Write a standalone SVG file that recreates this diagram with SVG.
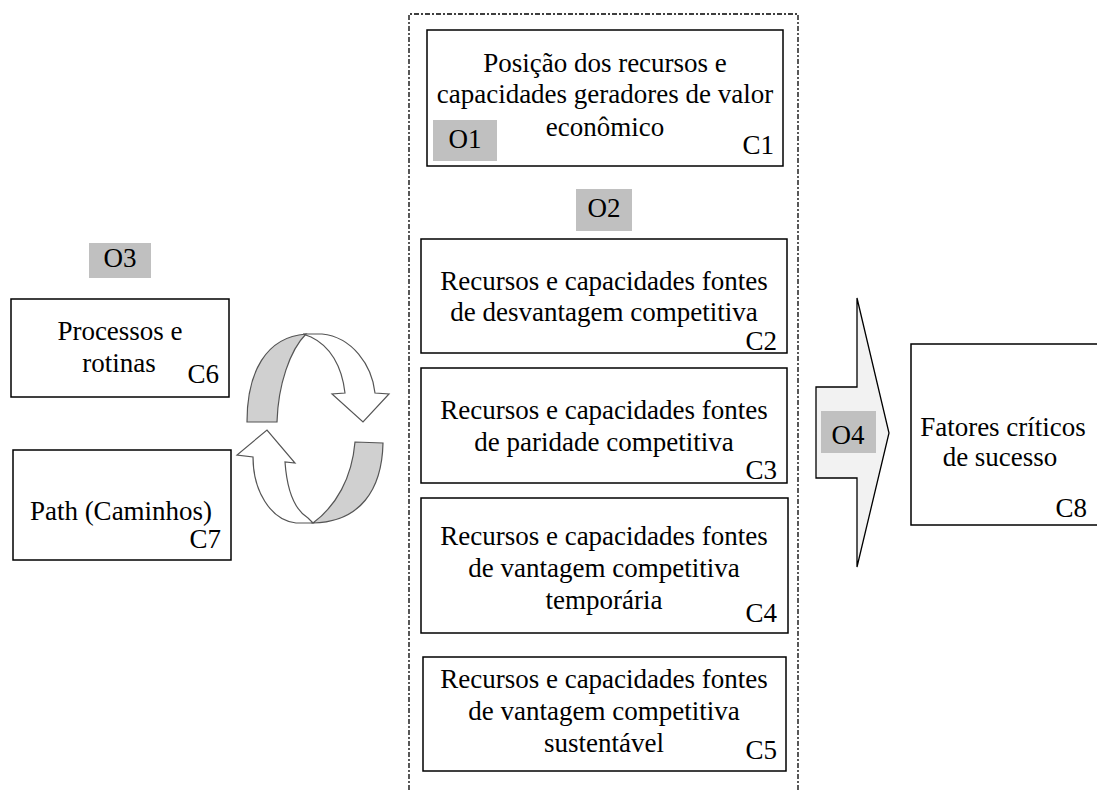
<svg xmlns="http://www.w3.org/2000/svg" width="1097" height="790" viewBox="0 0 1097 790" font-family="'Liberation Serif', 'Times New Roman', serif">
<style>
.box{fill:#fff;stroke:#000;stroke-width:1.5}
.tag{fill:#c0c0c0}
text{font-family:'Liberation Serif','Times New Roman',serif;font-size:27px;fill:#000}
.c{text-anchor:middle}
.r{text-anchor:end}
.rib{stroke:#555;stroke-width:1.2}
</style>
<rect width="1097" height="790" fill="#fff"/>
<g id="container">
<path d="M409,790 L409,14 L798,14 L798,790" fill="none" stroke="#000" stroke-width="1.3" stroke-dasharray="5,2,2,2"/>
</g>
<g id="C1">
<rect class="box" x="427" y="30" width="356" height="136"/>
<text class="c" x="605" y="72">Posição dos recursos e</text>
<text class="c" x="605" y="103">capacidades geradores de valor</text>
<text class="c" x="605" y="136">econômico</text>
<text class="r" x="774" y="154">C1</text>
</g>
<g id="O1">
<rect class="tag" x="433" y="120" width="64" height="41"/>
<text class="c" x="465" y="148">O1</text>
</g>
<g id="O2">
<rect class="tag" x="576" y="189" width="56" height="42"/>
<text class="c" x="604" y="217">O2</text>
</g>
<g id="C2">
<rect class="box" x="421" y="239" width="366" height="114"/>
<text class="c" x="604" y="290">Recursos e capacidades fontes</text>
<text class="c" x="604" y="321">de desvantagem competitiva</text>
<text class="r" x="777" y="350">C2</text>
</g>
<g id="C3">
<rect class="box" x="421" y="368" width="366" height="115"/>
<text class="c" x="604" y="419">Recursos e capacidades fontes</text>
<text class="c" x="604" y="451">de paridade competitiva</text>
<text class="r" x="777" y="479">C3</text>
</g>
<g id="C4">
<rect class="box" x="421" y="498" width="367" height="135"/>
<text class="c" x="604" y="545">Recursos e capacidades fontes</text>
<text class="c" x="604" y="577">de vantagem competitiva</text>
<text class="c" x="604" y="609">temporária</text>
<text class="r" x="777" y="622">C4</text>
</g>
<g id="C5">
<rect class="box" x="423" y="657" width="363" height="114"/>
<text class="c" x="604" y="688">Recursos e capacidades fontes</text>
<text class="c" x="604" y="720">de vantagem competitiva</text>
<text class="c" x="604" y="752">sustentável</text>
<text class="r" x="777" y="759">C5</text>
</g>
<g id="O3">
<rect class="tag" x="89" y="243" width="62" height="35"/>
<text class="c" x="120" y="267">O3</text>
</g>
<g id="C6">
<rect class="box" x="11" y="299" width="218" height="98"/>
<text class="c" x="120" y="340">Processos e</text>
<text class="c" x="119" y="372">rotinas</text>
<text class="r" x="219" y="383">C6</text>
</g>
<g id="C7">
<rect class="box" x="13" y="450" width="218" height="110"/>
<text class="c" x="121" y="520">Path (Caminhos)</text>
<text class="r" x="221" y="548">C7</text>
</g>
<g id="connectors">
<g id="cycle">
<path class="rib" fill="#d0d0d0" d="M247,422 C247,372 266,337 306,334 C290,350 278,385 277,422 Z"/>
<path class="rib" fill="#fff" d="M303,334 L322,334 C352,337 372,365 375,393 L389,394 L363,422 L332,394 L345,393 C342,366 330,346 311,337 Z"/>
<path class="rib" fill="#d0d0d0" d="M355,442 L383,443 C382,490 360,522 313,523 C336,506 352,478 355,442 Z"/>
<path class="rib" fill="#fff" d="M313,523 L296,523 C270,520 253,490 253,457 L237,455 L267,430 L295,463 L285,462 C287,490 295,510 308,518 Z"/>
</g>
<g id="bigArrow">
<path d="M816,387 L857,387 L857,298 L889,433 L857,567 L857,478 L816,478 Z" fill="#f2f2f2" stroke="#000" stroke-width="1.3"/>
</g>
</g>
<g id="O4">
<rect class="tag" x="821" y="411" width="55" height="42"/>
<text class="c" x="848" y="444">O4</text>
</g>
<g id="C8">
<rect class="box" x="911" y="344" width="190" height="181"/>
<text class="c" x="1003" y="436">Fatores críticos</text>
<text class="c" x="1000" y="466">de sucesso</text>
<text class="r" x="1087" y="517">C8</text>
</g>
</svg>
